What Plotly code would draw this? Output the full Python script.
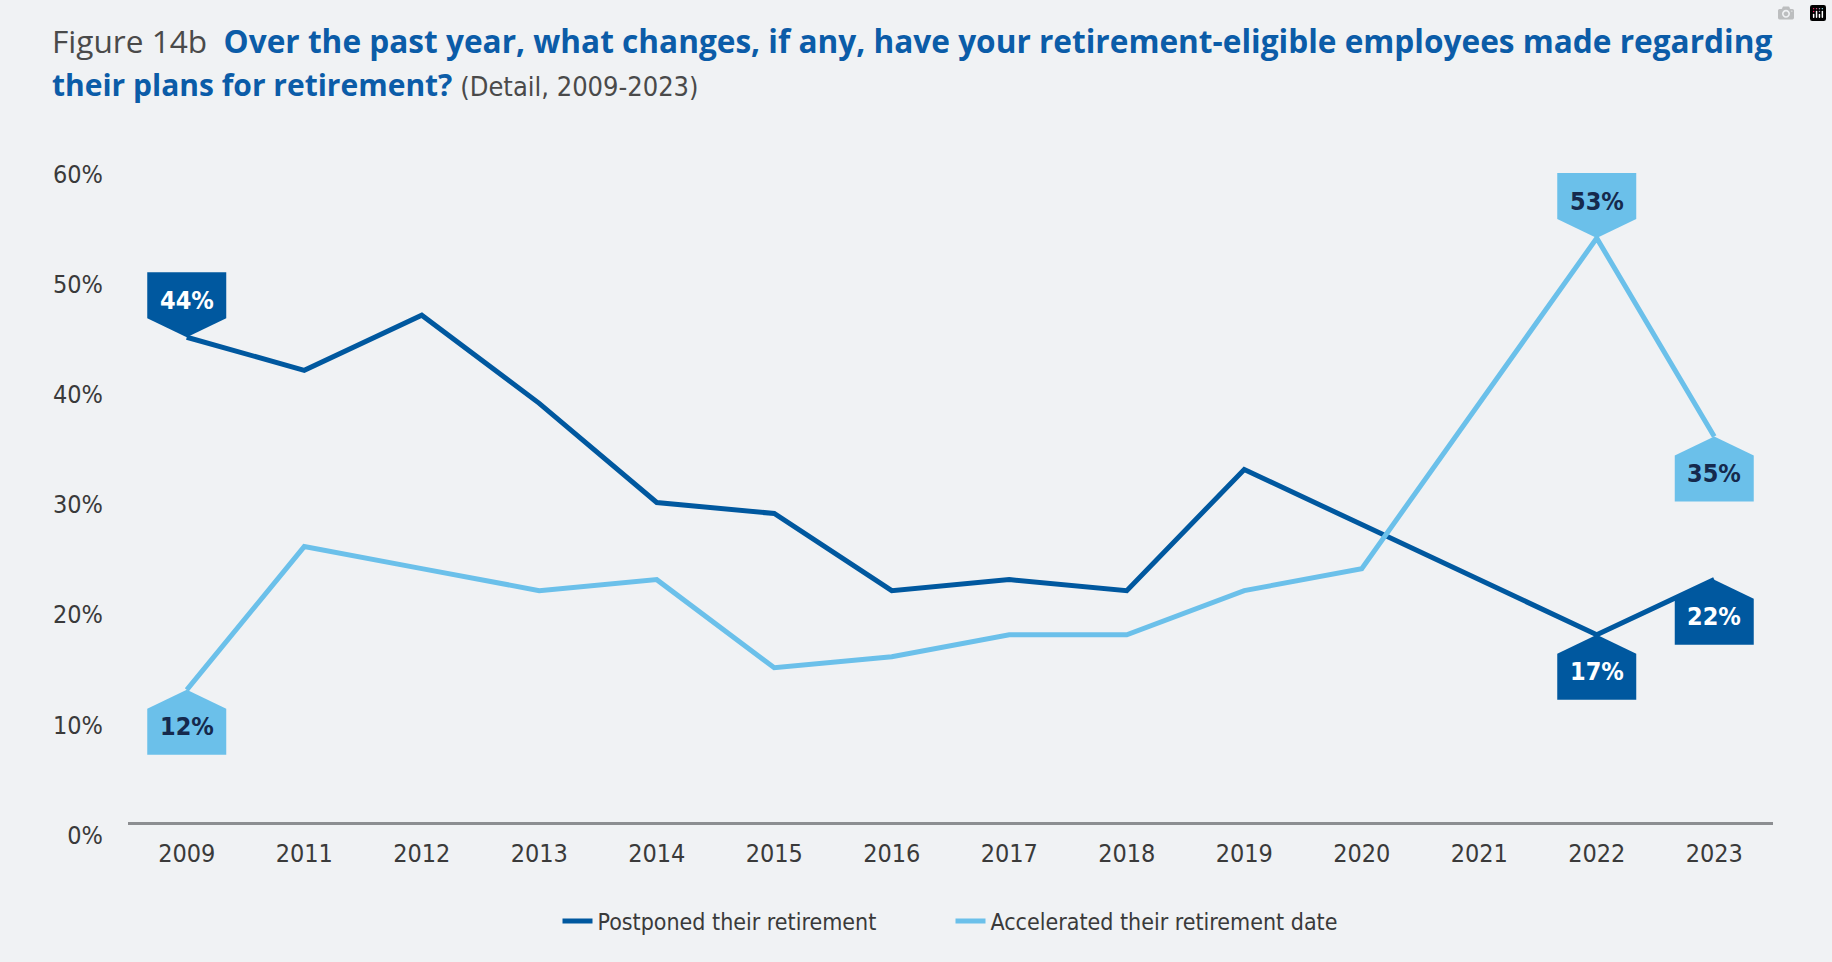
import plotly.graph_objects as go

# ---------------- data ----------------
years = ["2009", "2011", "2012", "2013", "2014", "2015", "2016",
         "2017", "2018", "2019", "2020", "2021", "2022", "2023"]
postponed = [44, 41, 46, 38, 29, 28, 21, 22, 21, 32, 27, None, 17, 22]
accelerated = [12, 25, 23, 21, 22, 14, 15, 17, 17, 21, 23, None, 53, 35]
y_ticks = [0, 10, 20, 30, 40, 50, 60]
series_names = ["Postponed their retirement", "Accelerated their retirement date"]

# callouts: (series index, year)
callouts = [(0, "2009"), (1, "2009"), (1, "2022"), (0, "2022"), (1, "2023"), (0, "2023")]

# ---------------- style ----------------
DARK = "#00589f"
LIGHT = "#6bc0ea"
NAVY = "#15294d"
BG = "#f0f2f4"
TXT = "#3a3a3a"
NARROW = "Liberation Sans Narrow, DejaVu Sans Condensed, Arial Narrow, sans-serif"
TITLE_FONT = "Open Sans, Lato, sans-serif"

series_vals = [postponed, accelerated]
series_cols = [DARK, LIGHT]
text_cols = ["white", NAVY]
above = {(0, "2009"), (1, "2022")}

fig = go.Figure()
for vals, name, col in zip(series_vals, series_names, series_cols):
    fig.add_trace(go.Scatter(
        x=years, y=vals, name=name, mode="lines", connectgaps=True,
        line=dict(color=col, width=5), hoverinfo="skip",
    ))

# callout boxes (pentagon with pointer at the data point)
HW, PT, BH = 39.5, 19, 46
for s, yr in callouts:
    vals = series_vals[s]
    xi = years.index(yr)
    v = vals[xi]
    d = 1 if (s, yr) in above else -1
    path = (f"M 0,0 L {-HW},{d*PT} L {-HW},{d*(PT+BH)} "
            f"L {HW},{d*(PT+BH)} L {HW},{d*PT} Z")
    fig.add_shape(type="path", xref="x", yref="y",
                  xsizemode="pixel", ysizemode="pixel",
                  xanchor=xi, yanchor=v, path=path,
                  fillcolor=series_cols[s], line=dict(width=0), layer="above")
    fig.add_annotation(x=xi, y=v, text=f"<b>{v}%</b>", showarrow=False,
                       xanchor="center", yanchor="middle",
                       yshift=d * 37,
                       font=dict(family=NARROW, size=25, color=text_cols[s]))

# title
fig.add_annotation(
    xref="paper", yref="paper", x=0, y=1, xanchor="left", yanchor="middle",
    xshift=-78, yshift=121, showarrow=False,
    text=("<span style='color:#4a4a4a;font-weight:normal'>Figure 14b</span>  "
          "<b>Over the past year, what changes, if any, have your "
          "retirement-eligible employees made regarding</b>"),
    font=dict(family=TITLE_FONT, size=31.6, color="#0b5ca8"))
fig.add_annotation(
    xref="paper", yref="paper", x=0, y=1, xanchor="left", yanchor="middle",
    xshift=-78, yshift=77, showarrow=False,
    text=("<b>their plans for retirement?</b> "
          f"<span style='color:#4a4a4a;font-family:{NARROW};font-size:27px'>(Detail, 2009-2023)</span>"),
    font=dict(family=TITLE_FONT, size=30, color="#0b5ca8"))

fig.update_layout(
    width=1832, height=962,
    margin=dict(l=128, r=59, t=161, b=140),
    paper_bgcolor=BG, plot_bgcolor=BG,
    showlegend=True,
    legend=dict(orientation="h", x=0.5, xanchor="center", y=-0.15, yanchor="middle",
                font=dict(family=NARROW, size=23, color=TXT),
                bgcolor="rgba(0,0,0,0)", entrywidth=348, entrywidthmode="pixels"),
    xaxis=dict(type="category", categoryorder="array", categoryarray=years,
               range=[-0.5, len(years) - 0.5],
               showgrid=False, zeroline=False, showline=True,
               linecolor="#8c8e91", linewidth=3, ticks="",
               tickfont=dict(family=NARROW, size=25, color=TXT),
               ticklabelstandoff=7, fixedrange=True),
    yaxis=dict(range=[0, 60], tickvals=y_ticks,
               ticktext=[f"{t}%" for t in y_ticks],
               showgrid=False, zeroline=False, showline=False, ticks="",
               tickfont=dict(family=NARROW, size=25, color=TXT),
               ticklabelstandoff=24, ticklabelshift=13, fixedrange=True),
)

fig.write_html("out.html", post_script="document.body.style.margin='0';")
